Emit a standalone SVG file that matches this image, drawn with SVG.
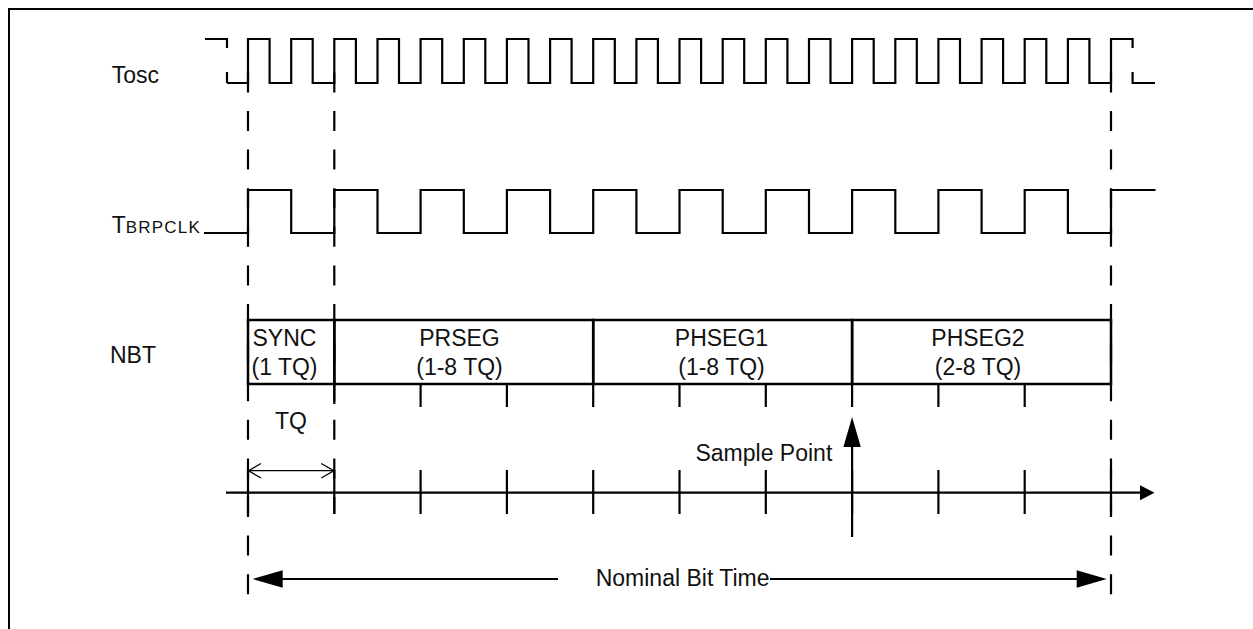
<svg xmlns="http://www.w3.org/2000/svg" width="1253" height="629" viewBox="0 0 1253 629">
<style>
  .txt { font-family: "Liberation Sans", Arial, sans-serif; font-size: 23px; fill: #111; }
  .mid { text-anchor: middle; }
  .wave { fill: none; stroke: #000; stroke-width: 2.2; stroke-linejoin: miter; }
  .dash { fill: none; stroke: #000; stroke-width: 2.2; stroke-dasharray: 20 18.6; }
  .solid { fill: none; stroke: #000; stroke-width: 2.2; }
  .box { fill: none; stroke: #000; stroke-width: 2.5; }
  .thin { fill: none; stroke: #000; stroke-width: 1.3; }
  .head { fill: #000; stroke: none; }
</style>
<rect x="9" y="9" width="1300" height="700" fill="none" stroke="#000" stroke-width="2"/>

<g id="guides">
  <path class="dash" d="M248,72.4 V602" />
  <path class="dash" d="M334.3,72.4 V514" />
  <path class="dash" d="M1111,72.4 V600" />
</g>

<g id="tosc">
  <text class="txt" x="111.7" y="82.7">Tosc</text>
  <path class="wave" d="M205,39 H227 V48 M227,72 V83" />
  <path class="wave" d="M227,83 H248 V39 H269.6 V83 H291.2 V39 H312.7 V83 H334.3 V39 H355.9 V83 H377.5 V39 H399 V83 H420.6 V39 H442.2 V83 H463.8 V39 H485.3 V83 H506.9 V39 H528.5 V83 H550.1 V39 H571.6 V83 H593.2 V39 H614.8 V83 H636.4 V39 H657.9 V83 H679.5 V39 H701.1 V83 H722.7 V39 H744.2 V83 H765.8 V39 H787.4 V83 H809 V39 H830.5 V83 H852.1 V39 H873.7 V83 H895.3 V39 H916.8 V83 H938.4 V39 H960 V83 H981.6 V39 H1003.1 V83 H1024.7 V39 H1046.3 V83 H1067.9 V39 H1089.4 V83 H1111 V39 H1132.6 V48" />
  <path class="wave" d="M1132.6,72 V83 H1155" />
</g>

<g id="tbrpclk">
  <text class="txt" x="111.7" y="233.3">T<tspan font-size="17" letter-spacing="1.2">BRPCLK</tspan></text>
  <path class="wave" d="M204,233 H248 V190 H291.2 V233 H334.3 V190 H377.5 V233 H420.6 V190 H463.8 V233 H506.9 V190 H550.1 V233 H593.2 V190 H636.4 V233 H679.5 V190 H722.7 V233 H765.8 V190 H809 V233 H852.1 V190 H895.3 V233 H938.4 V190 H981.6 V233 H1024.7 V190 H1067.9 V233 H1111 V190 H1155.5" />
</g>

<g id="nbt-label">
  <text class="txt" x="110" y="363.3">NBT</text>
</g>

<g id="seg-sync">
  <rect class="box" x="248" y="320" width="86.3" height="64" />
  <text class="txt" x="252.5" y="345.5">SYNC</text>
  <text class="txt" x="251.5" y="375">(1 TQ)</text>
</g>
<g id="seg-prseg">
  <rect class="box" x="334.3" y="320" width="258.9" height="64" />
  <text class="txt mid" x="459.5" y="345.5">PRSEG</text>
  <text class="txt mid" x="459.5" y="375">(1-8 TQ)</text>
</g>
<g id="seg-phseg1">
  <rect class="box" x="593.2" y="320" width="258.9" height="64" />
  <text class="txt mid" x="721.5" y="345.5">PHSEG1</text>
  <text class="txt mid" x="721.5" y="375">(1-8 TQ)</text>
</g>
<g id="seg-phseg2">
  <rect class="box" x="852.1" y="320" width="258.9" height="64" />
  <text class="txt mid" x="978" y="345.5">PHSEG2</text>
  <text class="txt mid" x="978" y="375">(2-8 TQ)</text>
</g>

<g id="box-ticks">
  <path class="solid" d="M334.3,384 V404 M420.6,384 V407 M506.9,384 V407 M593.2,384 V407 M679.5,384 V407 M765.8,384 V407 M852.1,384 V407 M938.4,384 V407 M1024.7,384 V407" />
</g>

<g id="tq-label">
  <text class="txt" x="275" y="429">TQ</text>
</g>

<g id="sample-label">
  <text class="txt" text-anchor="end" x="832.3" y="461">Sample Point</text>
</g>

<g id="nominal-label">
  <text class="txt" x="595.7" y="586">Nominal Bit Time</text>
</g>

<g id="connectors">
  <!-- time axis -->
  <path class="solid" d="M226,492.7 H1141" />
  <polygon class="head" points="1140,485.2 1154.5,492.7 1140,500.2" />
  <path class="solid" d="M248,470 V514 M334.3,470 V514 M420.6,470 V514 M506.9,470 V514 M593.2,470 V514 M679.5,470 V514 M765.8,470 V514 M852.1,470 V514 M938.4,470 V514 M1024.7,470 V514 M1111,470 V514" />
  <!-- TQ double arrow -->
  <path class="thin" d="M248,470.7 H334.3 M261,463.5 L248.5,470.7 L261,478 M321.3,463.5 L333.8,470.7 L321.3,478" />
  <!-- sample point arrow -->
  <path class="solid" d="M852.1,446 V537" />
  <polygon class="head" points="852.1,417 860.8,447 843.4,447" />
  <!-- nominal bit time arrow -->
  <path class="solid" d="M282,579 H558 M770,579 H1078" />
  <polygon class="head" points="252.7,579 282.7,570.3 282.7,587.7" />
  <polygon class="head" points="1106.7,579 1076.7,570.3 1076.7,587.7" />
</g>
</svg>
